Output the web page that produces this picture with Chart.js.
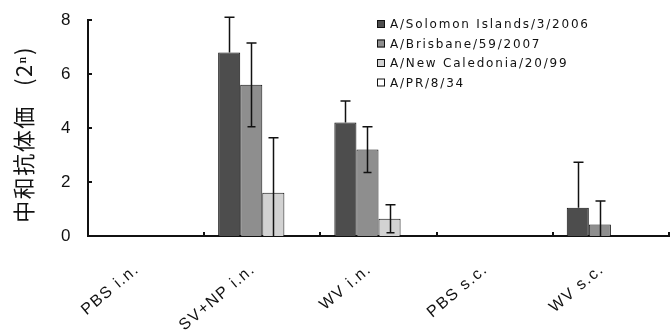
<!DOCTYPE html>
<html lang="ja">
<head>
  <meta charset="UTF-8" />
  <title>中和抗体価</title>
  <script src="https://cdn.jsdelivr.net/npm/chart.js"></script>
  <style>
    html, body { margin: 0; padding: 0; background: #fff; }
    #wrap { width: 670px; height: 333px; }
  </style>
</head>
<body>
  <div id="wrap"><canvas id="titerChart" width="670" height="333"></canvas></div>
  <script>
    const groups = ["PBS i.n.", "SV+NP i.n.", "WV i.n.", "PBS s.c.", "WV s.c."];
    const strains = ["A/Solomon Islands/3/2006", "A/Brisbane/59/2007", "A/New Caledonia/20/99", "A/PR/8/34"];

    // mean titre (2^n) per group
    const solomon = [0, 6.8, 4.2, 0, 1.05];
    const brisbane = [0, 5.6, 3.2, 0, 0.43];
    const caledonia = [0, 1.6, 0.64, 0, 0];
    const pr8 = [0, 0, 0, 0, 0];

    // error bars (+/-)
    const solomonErr = [0, 1.3, 0.8, 0, 1.68];
    const brisbaneErr = [0, 1.55, 0.85, 0, 0.87];
    const caledoniaErr = [0, 2.04, 0.52, 0, 0];
    const pr8Err = [0, 0, 0, 0, 0];

    const yTicks = [0, 2, 4, 6, 8];

    const fills = ["#4d4d4d", "#8e8e8e", "#d2d2d2", "#ffffff"];
    const seriesValues = [solomon, brisbane, caledonia, pr8];
    const seriesErrors = [solomonErr, brisbaneErr, caledoniaErr, pr8Err];

    const datasets = strains.map((name, i) => ({
      label: name,
      data: seriesValues[i],
      errors: seriesErrors[i],
      backgroundColor: fills[i],
      borderColor: "#111",
      borderWidth: 1,
      borderSkipped: "bottom",
      categoryPercentage: 0.76,
      barPercentage: 1.0
    }));

    // spaced-out lettering like the original
    const spacing = {
      id: "spacing",
      beforeDraw(chart) { chart.ctx.letterSpacing = "1.5px"; },
      afterDraw(chart) { chart.ctx.letterSpacing = "0px"; }
    };

    // error bars, inner tick marks and the legend box
    const extras = {
      id: "extras",
      afterDatasetsDraw(chart) {
        const ctx = chart.ctx;
        const y = chart.scales.y;
        const x = chart.scales.x;
        const area = chart.chartArea;
        ctx.save();
        ctx.strokeStyle = "#111";
        ctx.lineWidth = 1.5;
        chart.data.datasets.forEach((ds, di) => {
          const meta = chart.getDatasetMeta(di);
          ds.errors.forEach((e, i) => {
            if (!e) return;
            const bar = meta.data[i];
            const v = ds.data[i];
            const top = y.getPixelForValue(v + e);
            // lower whisker is hidden inside the darkest bars
            const low = di === 0 ? v : Math.max(0, v - e);
            const bot = y.getPixelForValue(low);
            const cx = Math.round(bar.x) + 0.5;
            ctx.beginPath();
            ctx.moveTo(cx, top);
            ctx.lineTo(cx, bot);
            ctx.moveTo(cx - 5, top);
            ctx.lineTo(cx + 5, top);
            if (di !== 0 && v - e > 0) {
              ctx.moveTo(cx - 4, bot);
              ctx.lineTo(cx + 4, bot);
            }
            ctx.stroke();
          });
        });

        // y ticks pointing inward
        ctx.lineWidth = 2;
        yTicks.forEach(t => {
          const py = Math.round(y.getPixelForValue(t));
          ctx.beginPath();
          ctx.moveTo(area.left, py);
          ctx.lineTo(area.left + 4, py);
          ctx.stroke();
        });
        // x ticks at group boundaries
        const step = x.getPixelForValue(1) - x.getPixelForValue(0);
        for (let i = 1; i <= groups.length; i++) {
          const px = Math.round(x.getPixelForValue(i) - step / 2);
          ctx.beginPath();
          ctx.moveTo(px, area.bottom);
          ctx.lineTo(px, area.bottom - 4);
          ctx.stroke();
        }

        // legend
        ctx.font = "12px 'DejaVu Sans'";
        ctx.letterSpacing = "1.8px";
        ctx.textBaseline = "middle";
        ctx.textAlign = "left";
        ctx.lineWidth = 1;
        strains.forEach((name, i) => {
          const ly = 24 + i * 19.5;
          ctx.fillStyle = fills[i];
          ctx.fillRect(377, ly - 4, 8, 8);
          ctx.strokeRect(377.5, ly - 3.5, 7, 7);
          ctx.fillStyle = "#111";
          ctx.fillText(name, 390, ly + 1);
        });
        ctx.restore();
      }
    };

    new Chart(document.getElementById("titerChart"), {
      type: "bar",
      data: { labels: groups, datasets: datasets },
      options: {
        responsive: false,
        animation: false,
        layout: { padding: { top: 20, right: 1, left: 0, bottom: 0 } },
        plugins: {
          legend: { display: false },
          tooltip: { enabled: false }
        },
        scales: {
          x: {
            grid: { display: false, drawTicks: false },
            border: { display: true, color: "#111", width: 2 },
            ticks: {
              color: "#111",
              font: { family: "'Liberation Sans', Arial", size: 16 },
              maxRotation: 40,
              minRotation: 40,
              autoSkip: false,
              padding: 24,
              labelOffset: -9
            },
            afterFit(scale) { scale.height = 97; }
          },
          y: {
            min: 0,
            max: 8,
            grid: { display: false, drawTicks: false },
            border: { display: true, color: "#111", width: 2 },
            ticks: {
              stepSize: 2,
              color: "#111",
              font: { family: "'Liberation Sans', Arial", size: 17, lineHeight: 0.4 },
              padding: 16
            },
            title: {
              display: true,
              text: "中和抗体価   (2ⁿ)  ",
              color: "#111",
              font: { family: "'Noto Sans CJK JP'", size: 22 },
              padding: { top: 10, bottom: 0 }
            },
            afterFit(scale) { scale.width = 88; }
          }
        }
      },
      plugins: [spacing, extras]
    });
  </script>
</body>
</html>
